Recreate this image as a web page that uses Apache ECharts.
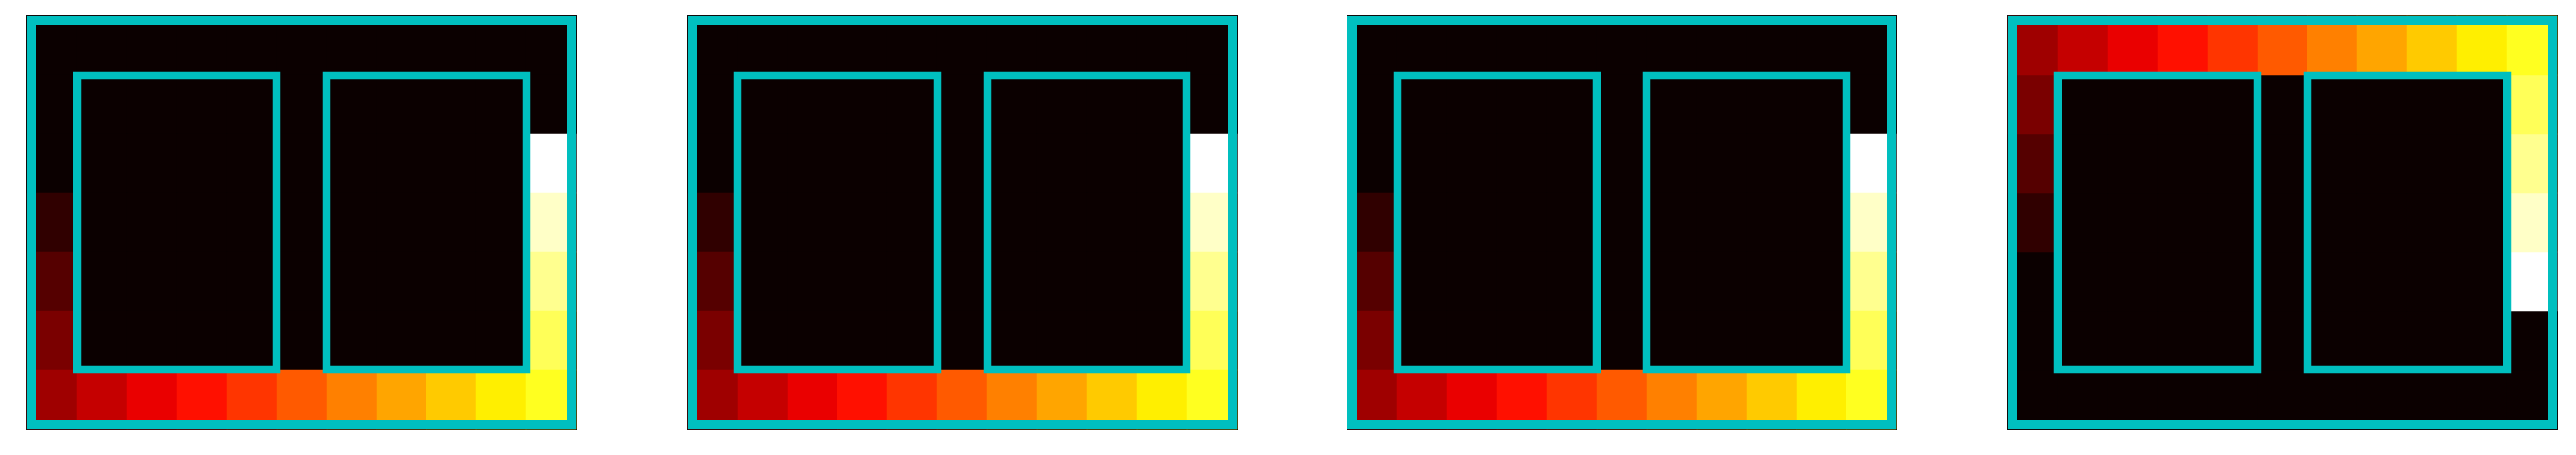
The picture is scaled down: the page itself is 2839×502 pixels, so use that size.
<!DOCTYPE html>
<html>
<head>
<meta charset="utf-8">
<script src="https://cdn.jsdelivr.net/npm/echarts@6/dist/echarts.min.js"></script>
<style>
html,body{margin:0;padding:0;background:#fff;}
#chart{width:2839px;height:502px;}
</style>
</head>
<body>
<div id="chart"></div>
<script>
// ---- data ----
const xCategories = ['0','1','2','3','4','5','6','7','8','9','10'];
const yCategories = ['0','1','2','3','4','5','6'];
const row0 = [0,0,0,0,0,0,0,0,0,0,0];
const row1 = [0,0,0,0,0,0,0,0,0,0,0];
const row2 = [0,0,0,0,0,0,0,0,0,0,18];
const row3 = [1,0,0,0,0,0,0,0,0,0,17];
const row4 = [2,0,0,0,0,0,0,0,0,0,16];
const row5 = [3,0,0,0,0,0,0,0,0,0,15];
const row6 = [4,5,6,7,8,9,10,11,12,13,14];
const imageRows = [row0,row1,row2,row3,row4,row5,row6];
const colorMin = 0, colorMax = 18;
// rectangles in data units: [x0, y0, x1, y1]
const innerBoxes = [[0.5,0.5,4.5,5.5],[5.5,0.5,9.5,5.5]];
const frameBox = [[-0.5,-0.5,10.5,6.5]];
// panel orientation: origin upper for first three, lower for the fourth
const panelOriginUpper = [true,true,true,false];

// ---- style helpers ----
function hot(t){
  const a = 0.365079, b = 0.746032;
  const r = t < a ? 0.0416 + (1-0.0416)*t/a : 1;
  const g = t < a ? 0 : (t < b ? (t-a)/(b-a) : 1);
  const bl = t < b ? 0 : (t-b)/(1-b);
  const h = v => Math.round(Math.max(0,Math.min(1,v))*255).toString(16).padStart(2,'0');
  return '#'+h(r)+h(g)+h(bl);
}
const hotColors = [];
for (let i = colorMin; i <= colorMax; i++) hotColors.push(hot((i-colorMin)/(colorMax-colorMin)));

const heatData = [];
imageRows.forEach((row, y) => row.forEach((v, x) => heatData.push([x, y, v])));

const panelLeft = [30, 758, 1485, 2213];
const gridTop = 18, gridW = 605, gridH = 455;
const cyan = '#00bfbf';

const grids = [], xAxes = [], yAxes = [], series = [];
panelLeft.forEach((left, i) => {
  grids.push({left: left, top: gridTop, width: gridW, height: gridH, show: true,
              borderColor: '#111', borderWidth: 2, backgroundColor: hotColors[0], containLabel: false});
  const upper = panelOriginUpper[i];
  // category axes for the image
  xAxes.push({type:'category', data: xCategories, gridIndex: i, show: false, boundaryGap: true});
  yAxes.push({type:'category', data: yCategories, gridIndex: i, show: false, boundaryGap: true, inverse: upper});
  // value axes for the rectangles
  xAxes.push({type:'value', gridIndex: i, show: false, min: -0.5, max: 10.5});
  yAxes.push({type:'value', gridIndex: i, show: false, min: -0.5, max: 6.5, inverse: upper});
  series.push({
    type: 'heatmap', xAxisIndex: 2*i, yAxisIndex: 2*i, data: heatData,
    itemStyle: {borderWidth: 0}, emphasis: {disabled: true}, animation: false, z: 1
  });
  const rectRender = (lw, inset) => function(params, api){
    const p0 = api.coord([api.value(0), api.value(1)]);
    const p1 = api.coord([api.value(2), api.value(3)]);
    const x = Math.min(p0[0],p1[0]) + inset, y = Math.min(p0[1],p1[1]) + inset;
    return {
      type: 'rect',
      shape: {x: x, y: y,
              width: Math.abs(p1[0]-p0[0]) - 2*inset, height: Math.abs(p1[1]-p0[1]) - 2*inset},
      style: {fill: 'none', stroke: cyan, lineWidth: lw, lineJoin: 'miter'},
      z2: 10
    };
  };
  series.push({
    type: 'custom', xAxisIndex: 2*i+1, yAxisIndex: 2*i+1, data: frameBox,
    renderItem: rectRender(10, 5), animation: false, z: 5, silent: true
  });
  series.push({
    type: 'custom', xAxisIndex: 2*i+1, yAxisIndex: 2*i+1, data: innerBoxes,
    renderItem: rectRender(8.5, 0), animation: false, z: 6, silent: true
  });
});

const chart = echarts.init(document.getElementById('chart'), null, {renderer: 'canvas'});
chart.setOption({
  backgroundColor: '#fff',
  animation: false,
  grid: grids,
  xAxis: xAxes,
  yAxis: yAxes,
  visualMap: {
    type: 'continuous', show: false, min: colorMin, max: colorMax, dimension: 2,
    seriesIndex: [0,3,6,9], inRange: {color: hotColors}
  },
  series: series
});
</script>
</body>
</html>
